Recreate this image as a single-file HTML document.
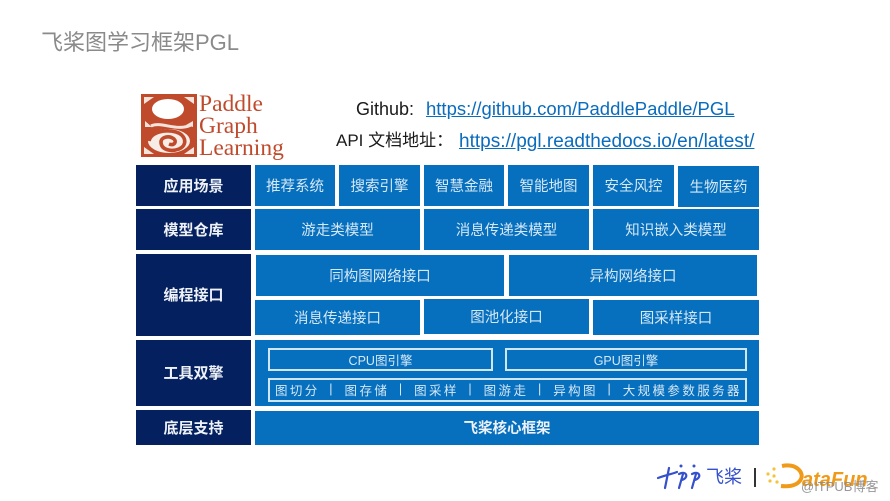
<!DOCTYPE html>
<html><head><meta charset="utf-8"><style>
html,body{margin:0;padding:0;background:#fff}
#p{position:relative;width:890px;height:501px;overflow:hidden;background:#fff;font-family:"Liberation Sans","Noto Sans CJK SC",sans-serif}
.t{position:absolute;white-space:nowrap;line-height:1}
.b,.d,.o{position:absolute;display:flex;align-items:center;justify-content:center;box-sizing:border-box;white-space:nowrap}
.b{background:#066fbe;color:#d5e8f6;font-size:14.5px;padding-bottom:1px}
.d{background:#04205f;color:#eef2f8;font-size:15px;font-weight:bold;left:136px;width:115px;padding-bottom:1px}
.o{border:2px solid #cfe6f5;color:#d5e8f6;font-size:12.5px;padding-bottom:1px}
a{color:#0a6cbd;text-decoration:underline}
</style></head><body><div id="p">
<div class="t" style="left:41px;top:32px;font-size:22px;color:#8a8a8a">飞桨图学习框架PGL</div>

<svg style="position:absolute;left:141px;top:94px" width="56" height="63" viewBox="0 0 56 63">
<rect width="56" height="63" fill="#bf4a2c"/>
<path d="M3 3H13L3 10ZM53 3H43L53 10ZM3 60H13L3 53ZM53 60H43L53 53Z" fill="#f4e3db"/>
<ellipse cx="27" cy="15" rx="16" ry="10" fill="#fff"/>
<path d="M4 27L11 33L4 33ZM52 27L45 31L52 33Z" fill="#f4e3db"/>
<path d="M10 32C20 27 36 38 50 31" fill="none" stroke="#f4e3db" stroke-width="3"/>
<ellipse cx="28" cy="47" rx="21" ry="12" fill="#f7ece6"/>
<path d="M8 47C10 38 24 35 35 38C45 41 47 51 38 55C30 58 20 56 20 48C20 43 28 41 33 45C36 48 33 52 28 50" fill="none" stroke="#bf4a2c" stroke-width="3.6"/>
</svg>
<div class="t" style="left:199px;top:93px;font:23.5px/22px 'Liberation Serif',serif;color:#bf4a2c">Paddle<br>Graph<br>Learning</div>

<div class="t" style="left:356px;top:100px;font-size:18px;color:#1a1a1a">Github:</div>
<div class="t" style="left:426px;top:100px;font-size:18.5px"><a>https://github.com/PaddlePaddle/PGL</a></div>
<div class="t" style="left:336px;top:132px;font-size:17px;color:#1a1a1a">API 文档地址：</div>
<div class="t" style="left:459px;top:132px;font-size:19px;letter-spacing:.02px"><a>https://pgl.readthedocs.io/en/latest/</a></div>

<div class="d" style="top:165px;height:41px">应用场景</div>
<div class="d" style="top:209px;height:41px">模型仓库</div>
<div class="d" style="top:254px;height:82px">编程接口</div>
<div class="d" style="top:340px;height:66px">工具双擎</div>
<div class="d" style="top:410px;height:35px">底层支持</div>

<div class="b" style="left:255px;top:165px;width:80px;height:41px">推荐系统</div>
<div class="b" style="left:339px;top:165px;width:81px;height:41px">搜索引擎</div>
<div class="b" style="left:424px;top:165px;width:80px;height:41px">智慧金融</div>
<div class="b" style="left:508px;top:165px;width:81px;height:41px">智能地图</div>
<div class="b" style="left:593px;top:165px;width:81px;height:41px">安全风控</div>
<div class="b" style="left:678px;top:166px;width:81px;height:41px">生物医药</div>

<div class="b" style="left:255px;top:209px;width:165px;height:41px">游走类模型</div>
<div class="b" style="left:424px;top:209px;width:165px;height:41px">消息传递类模型</div>
<div class="b" style="left:593px;top:209px;width:166px;height:41px">知识嵌入类模型</div>

<div class="b" style="left:256px;top:255px;width:248px;height:41px">同构图网络接口</div>
<div class="b" style="left:509px;top:255px;width:248px;height:41px">异构网络接口</div>

<div class="b" style="left:255px;top:300px;width:165px;height:35px">消息传递接口</div>
<div class="b" style="left:424px;top:299px;width:165px;height:35px">图池化接口</div>
<div class="b" style="left:593px;top:300px;width:166px;height:35px">图采样接口</div>

<div class="b" style="left:255px;top:340px;width:504px;height:66px"></div>
<div class="o" style="left:268px;top:348px;width:225px;height:23px">CPU图引擎</div>
<div class="o" style="left:505px;top:348px;width:242px;height:23px">GPU图引擎</div>
<div class="o" style="left:268px;top:378px;width:479px;height:24px;justify-content:space-between;padding:0 3px 2px 5px;letter-spacing:2.4px"><span>图切分</span><span>|</span><span>图存储</span><span>|</span><span>图采样</span><span>|</span><span>图游走</span><span>|</span><span>异构图</span><span>|</span><span>大规模参数服务器</span></div>

<div class="b" style="left:255px;top:411px;width:504px;height:34px;font-weight:bold;color:#eef2f8">飞桨核心框架</div>

<svg style="position:absolute;left:656px;top:461px" width="50" height="30" viewBox="0 0 50 30">
<g fill="none" stroke="#3450cc" stroke-width="2.2" stroke-linecap="round">
<path d="M2 17C10 14 16 13 21 11M13 7L9 27"/>
<path d="M23 13C31 9 33 17 26 19M27 13L23 27"/>
<path d="M36 13C44 9 46 17 39 19M40 13L36 27"/>
</g>
<g fill="#3450cc"><circle cx="25" cy="5" r="1.5"/><circle cx="38" cy="5" r="1.5"/></g>
</svg>
<div class="t" style="left:706px;top:468px;font-size:18px;color:#3450cc">飞桨</div>
<div style="position:absolute;left:754px;top:468px;width:2px;height:19px;background:#333"></div>
<svg style="position:absolute;left:765px;top:462px" width="45" height="30" viewBox="0 0 45 30">
<g fill="#f5c23a"><circle cx="3" cy="12" r="1.6"/><circle cx="9" cy="7" r="1.6"/><circle cx="9" cy="14" r="1.6"/><circle cx="5" cy="19" r="1.6"/><circle cx="12" cy="20" r="1.6"/></g>
<path d="M17 4C32 1 39 11 36 17C33 23 26 25 16 24" fill="none" stroke="#f09a1a" stroke-width="4"/>
</svg>
<div class="t" style="left:802px;top:470px;font-size:20px;font-weight:bold;font-style:italic;color:#f09a1a">ataFun</div>
<div class="t" style="left:801px;top:480px;font-size:13px;color:rgba(140,140,140,.9)">@ITPUB博客</div>
</div></body></html>
